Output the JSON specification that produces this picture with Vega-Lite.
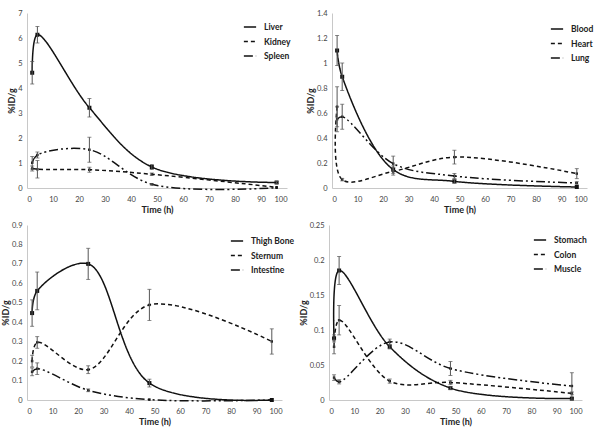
{
  "$schema": "https://vega.github.io/schema/vega-lite/v6.json",
  "padding": {"left": 1, "top": 9, "right": 2, "bottom": 2},
  "background": "white",
  "config": {
    "view": {"stroke": null},
    "font": "Lato",
    "axis": {
      "grid": false,
      "ticks": false,
      "domainColor": "#c8c8c8",
      "domainWidth": 1,
      "labelFont": "Lato",
      "labelFontSize": 7.5,
      "labelColor": "#444",
      "labelPadding": 7,
      "labelOverlap": false,
      "labelBound": false,
      "titleFont": "Lato",
      "titleFontSize": 9,
      "titleFontWeight": "bold",
      "titleColor": "#222"
    },
    "axisX": {"titlePadding": 3},
    "axisY": {"titlePadding": 1, "labelPadding": 5},
    "legend": {
      "orient": "none",
      "symbolType": "stroke",
      "symbolStrokeWidth": 1.5,
      "symbolStrokeColor": "#111",
      "symbolSize": 150,
      "labelFont": "Lato",
      "labelFontSize": 8.5,
      "labelFontWeight": "bold",
      "labelColor": "#222",
      "labelOffset": 7,
      "rowPadding": 2.5,
      "padding": 0
    }
  },
  "datasets": {
    "uptake": [
      {"panel": "A", "organ": "Liver", "time": 2, "val": 4.61, "err": 0.45},
      {"panel": "A", "organ": "Liver", "time": 4, "val": 6.13, "err": 0.33},
      {"panel": "A", "organ": "Liver", "time": 24, "val": 3.21, "err": 0.37},
      {"panel": "A", "organ": "Liver", "time": 48, "val": 0.84, "err": 0.1},
      {"panel": "A", "organ": "Liver", "time": 96, "val": 0.22, "err": 0.04},
      {"panel": "A", "organ": "Kidney", "time": 2, "val": 0.78, "err": 0.1},
      {"panel": "A", "organ": "Kidney", "time": 4, "val": 0.75, "err": 0.35},
      {"panel": "A", "organ": "Kidney", "time": 24, "val": 0.73, "err": 0.1},
      {"panel": "A", "organ": "Kidney", "time": 48, "val": 0.55, "err": 0.05},
      {"panel": "A", "organ": "Kidney", "time": 96, "val": 0.03, "err": 0},
      {"panel": "A", "organ": "Spleen", "time": 2, "val": 1.01, "err": 0.25},
      {"panel": "A", "organ": "Spleen", "time": 4, "val": 1.32, "err": 0.12},
      {"panel": "A", "organ": "Spleen", "time": 24, "val": 1.53, "err": 0.5},
      {"panel": "A", "organ": "Spleen", "time": 48, "val": 0.15, "err": 0.03},
      {"panel": "A", "organ": "Spleen", "time": 96, "val": 0.01, "err": 0},

      {"panel": "B", "organ": "Blood", "time": 2, "val": 1.1, "err": 0.12},
      {"panel": "B", "organ": "Blood", "time": 4, "val": 0.89, "err": 0.11},
      {"panel": "B", "organ": "Blood", "time": 24, "val": 0.147, "err": 0.03},
      {"panel": "B", "organ": "Blood", "time": 48, "val": 0.053, "err": 0.015},
      {"panel": "B", "organ": "Blood", "time": 96, "val": 0.008, "err": 0},
      {"panel": "B", "organ": "Heart", "time": 2, "val": 0.65, "err": 0.16},
      {"panel": "B", "organ": "Heart", "time": 4, "val": 0.067, "err": 0.01},
      {"panel": "B", "organ": "Heart", "time": 24, "val": 0.133, "err": 0.03},
      {"panel": "B", "organ": "Heart", "time": 48, "val": 0.247, "err": 0.055},
      {"panel": "B", "organ": "Heart", "time": 96, "val": 0.115, "err": 0.04},
      {"panel": "B", "organ": "Lung", "time": 2, "val": 0.55, "err": 0.1},
      {"panel": "B", "organ": "Lung", "time": 4, "val": 0.57, "err": 0.1},
      {"panel": "B", "organ": "Lung", "time": 24, "val": 0.195, "err": 0.06},
      {"panel": "B", "organ": "Lung", "time": 48, "val": 0.096, "err": 0.02},
      {"panel": "B", "organ": "Lung", "time": 96, "val": 0.04, "err": 0.01},

      {"panel": "C", "organ": "Thigh  Bone", "time": 2, "val": 0.447, "err": 0.068},
      {"panel": "C", "organ": "Thigh  Bone", "time": 4, "val": 0.561, "err": 0.097},
      {"panel": "C", "organ": "Thigh  Bone", "time": 24, "val": 0.7, "err": 0.08},
      {"panel": "C", "organ": "Thigh  Bone", "time": 48, "val": 0.087, "err": 0.02},
      {"panel": "C", "organ": "Thigh  Bone", "time": 96, "val": 0.0, "err": 0},
      {"panel": "C", "organ": "Sternum", "time": 2, "val": 0.2, "err": 0.03},
      {"panel": "C", "organ": "Sternum", "time": 4, "val": 0.296, "err": 0.03},
      {"panel": "C", "organ": "Sternum", "time": 24, "val": 0.156, "err": 0.02},
      {"panel": "C", "organ": "Sternum", "time": 48, "val": 0.489, "err": 0.08},
      {"panel": "C", "organ": "Sternum", "time": 96, "val": 0.301, "err": 0.065},
      {"panel": "C", "organ": "Intestine", "time": 2, "val": 0.145, "err": 0.02},
      {"panel": "C", "organ": "Intestine", "time": 4, "val": 0.161, "err": 0.03},
      {"panel": "C", "organ": "Intestine", "time": 24, "val": 0.05, "err": 0.007},
      {"panel": "C", "organ": "Intestine", "time": 48, "val": 0.002, "err": 0},
      {"panel": "C", "organ": "Intestine", "time": 96, "val": 0.0, "err": 0},

      {"panel": "D", "organ": "Stomach", "time": 2, "val": 0.088, "err": 0.005},
      {"panel": "D", "organ": "Stomach", "time": 4, "val": 0.185, "err": 0.02},
      {"panel": "D", "organ": "Stomach", "time": 24, "val": 0.076, "err": 0.003},
      {"panel": "D", "organ": "Stomach", "time": 48, "val": 0.017, "err": 0.002},
      {"panel": "D", "organ": "Stomach", "time": 96, "val": 0.002, "err": 0},
      {"panel": "D", "organ": "Colon", "time": 2, "val": 0.076, "err": 0.01},
      {"panel": "D", "organ": "Colon", "time": 4, "val": 0.114, "err": 0.021},
      {"panel": "D", "organ": "Colon", "time": 24, "val": 0.027, "err": 0.003},
      {"panel": "D", "organ": "Colon", "time": 48, "val": 0.025, "err": 0.003},
      {"panel": "D", "organ": "Colon", "time": 96, "val": 0.0095, "err": 0.002},
      {"panel": "D", "organ": "Muscle", "time": 2, "val": 0.032, "err": 0.004},
      {"panel": "D", "organ": "Muscle", "time": 4, "val": 0.026, "err": 0.003},
      {"panel": "D", "organ": "Muscle", "time": 24, "val": 0.083, "err": 0.004},
      {"panel": "D", "organ": "Muscle", "time": 48, "val": 0.045, "err": 0.01},
      {"panel": "D", "organ": "Muscle", "time": 96, "val": 0.02, "err": 0.019}
    ]
  },
  "data": {"name": "uptake"},
  "vconcat": [
    {
      "bounds": "flush",
      "spacing": 45,
      "hconcat": [
        {
          "width": 260, "height": 175,
          "transform": [{"filter": "datum.panel === 'A'"}],
          "encoding": {
            "x": {"field": "time", "type": "quantitative", "title": "Time (h)", "scale": {"domain": [0, 100], "nice": false}, "axis": {"values": [0, 10, 20, 30, 40, 50, 60, 70, 80, 90, 100]}},
            "y": {"field": "val", "type": "quantitative", "title": "%ID/g", "scale": {"domain": [0, 7], "nice": false}, "axis": {"values": [0, 1, 2, 3, 4, 5, 6, 7], "format": "~g"}}
          },
          "layer": [
            {
              "mark": {"type": "line", "interpolate": "catmull-rom", "strokeWidth": 1.5, "color": "#111"},
              "encoding": {
                "strokeDash": {"field": "organ", "type": "nominal", "scale": {"domain": ["Liver", "Kidney", "Spleen"], "range": [[1, 0], [4, 3], [9, 3, 2, 3, 2, 3]]}, "legend": {"title": null, "orient": "none", "legendX": 216, "legendY": 7}}
              }
            },
            {
              "transform": [{"filter": "datum.organ === 'Liver'"}],
              "mark": {"type": "square", "color": "#111", "size": 16, "opacity": 1}
            },
            {
              "transform": [{"filter": "datum.organ !== 'Liver'"}],
              "mark": {"type": "square", "color": "#111", "size": 6, "opacity": 1}
            },
            {
              "transform": [{"filter": "datum.err > 0"}],
              "mark": {"type": "errorbar", "ticks": {"size": 4}, "color": "#555", "thickness": 1},
              "encoding": {"yError": {"field": "err"}}
            }
          ]
        },
        {
          "width": 255, "height": 175,
          "transform": [{"filter": "datum.panel === 'B'"}],
          "encoding": {
            "x": {"field": "time", "type": "quantitative", "title": "Time (h)", "scale": {"domain": [0, 100], "nice": false}, "axis": {"values": [0, 10, 20, 30, 40, 50, 60, 70, 80, 90, 100]}},
            "y": {"field": "val", "type": "quantitative", "title": "%ID/g", "scale": {"domain": [0, 1.4], "nice": false}, "axis": {"values": [0, 0.2, 0.4, 0.6, 0.8, 1, 1.2, 1.4], "format": "~g"}}
          },
          "layer": [
            {
              "mark": {"type": "line", "interpolate": "catmull-rom", "strokeWidth": 1.5, "color": "#111"},
              "encoding": {
                "strokeDash": {"field": "organ", "type": "nominal", "scale": {"domain": ["Blood", "Heart", "Lung"], "range": [[1, 0], [4, 3], [9, 3, 2, 3, 2, 3]]}, "legend": {"title": null, "orient": "none", "legendX": 218, "legendY": 9}}
              }
            },
            {
              "transform": [{"filter": "datum.organ === 'Blood'"}],
              "mark": {"type": "square", "color": "#111", "size": 16, "opacity": 1}
            },
            {
              "transform": [{"filter": "datum.organ !== 'Blood'"}],
              "mark": {"type": "square", "color": "#111", "size": 6, "opacity": 1}
            },
            {
              "transform": [{"filter": "datum.err > 0"}],
              "mark": {"type": "errorbar", "ticks": {"size": 4}, "color": "#555", "thickness": 1},
              "encoding": {"yError": {"field": "err"}}
            }
          ]
        }
      ],
      "resolve": {"scale": {"x": "independent", "y": "independent", "strokeDash": "independent"}, "legend": {"strokeDash": "independent"}}
    },
    {
      "bounds": "flush",
      "spacing": 47,
      "hconcat": [
        {
          "width": 255, "height": 175,
          "transform": [{"filter": "datum.panel === 'C'"}],
          "encoding": {
            "x": {"field": "time", "type": "quantitative", "title": "Time (h)", "scale": {"domain": [0, 100], "nice": false}, "axis": {"values": [0, 10, 20, 30, 40, 50, 60, 70, 80, 90, 100]}},
            "y": {"field": "val", "type": "quantitative", "title": "%ID/g", "scale": {"domain": [0, 0.9], "nice": false}, "axis": {"values": [0, 0.1, 0.2, 0.3, 0.4, 0.5, 0.6, 0.7, 0.8, 0.9], "format": "~g"}}
          },
          "layer": [
            {
              "mark": {"type": "line", "interpolate": "catmull-rom", "strokeWidth": 1.5, "color": "#111"},
              "encoding": {
                "strokeDash": {"field": "organ", "type": "nominal", "scale": {"domain": ["Thigh  Bone", "Sternum", "Intestine"], "range": [[1, 0], [4, 3], [9, 3, 2, 3, 2, 3]]}, "legend": {"title": null, "orient": "none", "legendX": 203, "legendY": 9}}
              }
            },
            {
              "transform": [{"filter": "datum.organ === 'Thigh  Bone'"}],
              "mark": {"type": "square", "color": "#111", "size": 16, "opacity": 1}
            },
            {
              "transform": [{"filter": "datum.organ !== 'Thigh  Bone'"}],
              "mark": {"type": "square", "color": "#111", "size": 6, "opacity": 1}
            },
            {
              "transform": [{"filter": "datum.err > 0"}],
              "mark": {"type": "errorbar", "ticks": {"size": 4}, "color": "#555", "thickness": 1},
              "encoding": {"yError": {"field": "err"}}
            }
          ]
        },
        {
          "width": 253, "height": 175,
          "transform": [{"filter": "datum.panel === 'D'"}],
          "encoding": {
            "x": {"field": "time", "type": "quantitative", "title": "Time (h)", "scale": {"domain": [0, 100], "nice": false}, "axis": {"values": [0, 10, 20, 30, 40, 50, 60, 70, 80, 90, 100]}},
            "y": {"field": "val", "type": "quantitative", "title": "%ID/g", "scale": {"domain": [0, 0.25], "nice": false}, "axis": {"values": [0, 0.05, 0.1, 0.15, 0.2, 0.25], "format": "~g"}}
          },
          "layer": [
            {
              "mark": {"type": "line", "interpolate": "catmull-rom", "strokeWidth": 1.5, "color": "#111"},
              "encoding": {
                "strokeDash": {"field": "organ", "type": "nominal", "scale": {"domain": ["Stomach", "Colon", "Muscle"], "range": [[1, 0], [4, 3], [9, 3, 2, 3, 2, 3]]}, "legend": {"title": null, "orient": "none", "legendX": 204, "legendY": 8}}
              }
            },
            {
              "transform": [{"filter": "datum.organ === 'Stomach'"}],
              "mark": {"type": "square", "color": "#111", "size": 16, "opacity": 1}
            },
            {
              "transform": [{"filter": "datum.organ !== 'Stomach'"}],
              "mark": {"type": "square", "color": "#111", "size": 6, "opacity": 1}
            },
            {
              "transform": [{"filter": "datum.err > 0"}],
              "mark": {"type": "errorbar", "ticks": {"size": 4}, "color": "#555", "thickness": 1},
              "encoding": {"yError": {"field": "err"}}
            }
          ]
        }
      ],
      "resolve": {"scale": {"x": "independent", "y": "independent", "strokeDash": "independent"}, "legend": {"strokeDash": "independent"}}
    }
  ],
  "spacing": 6,
  "resolve": {"scale": {"x": "independent", "y": "independent", "strokeDash": "independent"}, "legend": {"strokeDash": "independent"}}
}
